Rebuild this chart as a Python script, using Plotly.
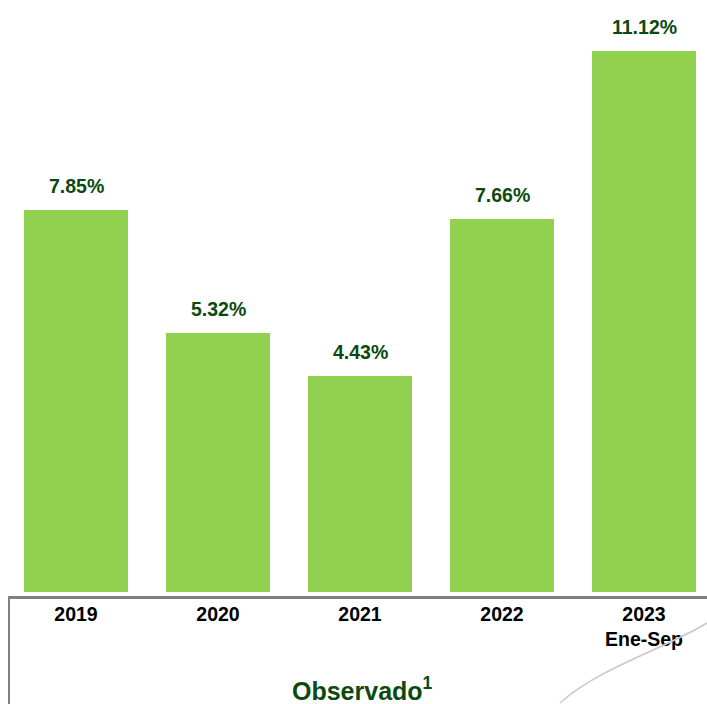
import plotly.graph_objects as go

years = ["2019", "2020", "2021", "2022", "2023"]
tick_labels = ["2019", "2020", "2021", "2022", "2023<br>Ene-Sep"]
values = [7.85, 5.32, 4.43, 7.66, 11.12]
value_labels = ["7.85%", "5.32%", "4.43%", "7.66%", "11.12%"]

W, H = 707, 704
BASE = 592  # plot bottom, in page pixels
PX_PER_UNIT = 48.66
x_idx = list(range(len(years)))

BAR = "#92D050"
DARK = "#0B4A0E"
FONT = "Arial, Liberation Sans, sans-serif"

fig = go.Figure()
fig.add_trace(go.Bar(
    x=x_idx, y=values, width=0.732,
    marker=dict(color=BAR, line=dict(width=0)),
    hoverinfo="skip",
))

for xi, v, t in zip(x_idx, values, value_labels):
    fig.add_annotation(x=xi, y=v, text=f"<b>{t}</b>", showarrow=False,
                       yanchor="bottom", yshift=11,
                       font=dict(family=FONT, size=19.5, color=DARK))

def px(x):
    return x / W

def py(y):
    return (BASE - y) / BASE

shapes = [
    dict(type="line", xref="paper", yref="paper", x0=px(8), x1=px(707),
         y0=py(597.5), y1=py(597.5), line=dict(color="#808080", width=3)),
    dict(type="line", xref="paper", yref="paper", x0=px(9), x1=px(9),
         y0=py(597), y1=py(704), line=dict(color="#808080", width=2)),
    dict(type="path", xref="paper", yref="paper",
         path=(f"M {px(707)},{py(623)} C {px(667)},{py(648)} "
               f"{px(600)},{py(667)} {px(560)},{py(703)}"),
         line=dict(color="#C8C8C8", width=1.6)),
]

fig.add_annotation(xref="paper", yref="paper", x=px(362), y=py(689),
                   text="<b>Observado<sup>1</sup></b>", showarrow=False,
                   xanchor="center", yanchor="middle",
                   font=dict(family=FONT, size=25, color=DARK))

x0 = -76 / 142
fig.update_layout(
    width=W, height=H,
    margin=dict(l=0, r=0, t=0, b=H - BASE),
    paper_bgcolor="white", plot_bgcolor="white",
    showlegend=False, bargap=0,
    shapes=shapes,
    xaxis=dict(range=[x0, x0 + W / 142], tickmode="array", tickvals=x_idx,
               ticktext=[f"<b>{t}</b>" for t in tick_labels],
               tickfont=dict(family=FONT, size=19.5, color="black"),
               ticklabelstandoff=8,
               showgrid=False, zeroline=False, showline=False, ticks="",
               fixedrange=True),
    yaxis=dict(range=[0, BASE / PX_PER_UNIT], visible=False, fixedrange=True),
)

fig.write_html("out.html", config={"displayModeBar": False, "staticPlot": True},
               post_script="document.body.style.margin='0';document.body.style.overflow='hidden';")
